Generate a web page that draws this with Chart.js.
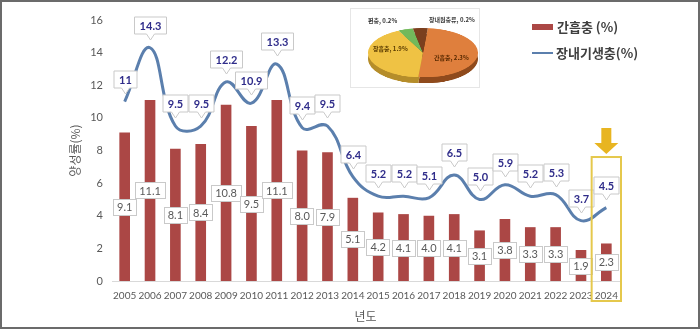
<!DOCTYPE html>
<html>
<head>
<meta charset="utf-8">
<script src="https://cdn.jsdelivr.net/npm/chart.js@4/dist/chart.umd.min.js"></script>
<style>
  html, body { margin:0; padding:0; background:#fff; }
  #wrap { position:relative; width:700px; height:330px; overflow:hidden; }
  #frame { position:absolute; left:0; top:0; width:700px; height:329px; box-sizing:border-box; border:2px solid #6b6b6b; pointer-events:none; }
  #main { position:absolute; left:0; top:0; }
  #pieBox { position:absolute; left:350px; top:8px; width:130px; height:80px; background:#fff; border:1px solid #e6e6e6; box-sizing:border-box; }
  .pc { position:absolute; left:17px; transform-origin:0 0; transform:scaleY(0.45); }
  .plab { position:absolute; font-family:'Noto Sans CJK KR',sans-serif; font-weight:700; font-size:6px; color:#3a3a3a; white-space:nowrap; line-height:1; }
  .leg { position:absolute; font-family:'Noto Sans CJK KR',sans-serif; font-weight:700; font-size:13px; color:#404040; white-space:nowrap; line-height:1; }
</style>
</head>
<body>
<div id="wrap">
  <canvas id="main" width="700" height="330"></canvas>
  <div id="pieBox">
    <canvas id="pieSide" class="pc" width="110" height="110" style="top:25px"></canvas>
    <canvas id="pieTop" class="pc" width="110" height="110" style="top:19px"></canvas>
    <span class="plab" style="left:17px;top:9px;">편충, 0.2%</span>
    <span class="plab" style="left:78px;top:8px;">장내원충류, 0.2%</span>
    <span class="plab" style="left:22px;top:37px;color:#5a3b00;">장흡충, 1.9%</span>
    <span class="plab" style="left:83px;top:46px;color:#5a2a00;">간흡충, 2.3%</span>
  </div>
  <div style="position:absolute;left:532px;top:24px;width:21px;height:6px;background:#ab4745;"></div>
  <div class="leg" style="left:557px;top:20px;">간흡충 (%)</div>
  <div style="position:absolute;left:532px;top:52px;width:21px;height:2px;background:#5b7fad;"></div>
  <div class="leg" style="left:556px;top:46px;">장내기생충(%)</div>
  <div id="frame"></div>
</div>
<script>
const years = ['2005','2006','2007','2008','2009','2010','2011','2012','2013','2014','2015','2016','2017','2018','2019','2020','2021','2022','2023','2024'];
const clonorchis = [9.1,11.1,8.1,8.4,10.8,9.5,11.1,8.0,7.9,5.1,4.2,4.1,4.0,4.1,3.1,3.8,3.3,3.3,1.9,2.3];
const intestinal = [11,14.3,9.5,9.5,12.2,10.9,13.3,9.4,9.5,6.4,5.2,5.2,5.1,6.5,5.0,5.9,5.2,5.3,3.7,4.5];
const intestinalLabels = ['11','14.3','9.5','9.5','12.2','10.9','13.3','9.4','9.5','6.4','5.2','5.2','5.1','6.5','5.0','5.9','5.2','5.3','3.7','4.5'];
const yTicks = [0,2,4,6,8,10,12,14,16];
const pieLabels = ['간흡충','장흡충','편충','장내원충류'];
const pieValues = [2.3,1.9,0.2,0.2];

const NUM_FONT = "Lato, 'Liberation Sans', sans-serif";
const KR_FONT = "'Noto Sans CJK KR', sans-serif";

const labelPlugin = {
  id: 'valueLabels',
  afterDatasetsDraw(chart) {
    const ctx = chart.ctx;
    const barMeta = chart.getDatasetMeta(0);
    const lineMeta = chart.getDatasetMeta(1);
    ctx.save();
    ctx.font = '11px ' + NUM_FONT;
    ctx.textAlign = 'center';
    ctx.textBaseline = 'middle';
    barMeta.data.forEach((bar, i) => {
      const txt = clonorchis[i].toFixed(1);
      const cx = bar.x, cy = (bar.y + bar.base) / 2;
      const w = ctx.measureText(txt).width + 8, h = 16;
      ctx.fillStyle = '#fff';
      ctx.strokeStyle = '#c9c9c9';
      ctx.lineWidth = 1;
      ctx.fillRect(Math.round(cx - w/2)+0.5, Math.round(cy - h/2)+0.5, Math.round(w), h);
      ctx.strokeRect(Math.round(cx - w/2)+0.5, Math.round(cy - h/2)+0.5, Math.round(w), h);
      ctx.fillStyle = '#595959';
      ctx.fillText(txt, cx, cy + 0.5);
    });
    ctx.font = 'bold 11px ' + NUM_FONT;
    lineMeta.data.forEach((pt, i) => {
      const txt = intestinalLabels[i];
      const cx = Math.round(pt.x) + 0.5;
      const cy = Math.round(pt.y - 23) + 0.5;
      const w = Math.round(ctx.measureText(txt).width + 10), h = 17;
      const l = cx - w/2, r = cx + w/2, t = cy - h/2, b = cy + h/2;
      ctx.beginPath();
      ctx.moveTo(l, t); ctx.lineTo(r, t); ctx.lineTo(r, b);
      ctx.lineTo(cx + 4, b); ctx.lineTo(cx, b + 6); ctx.lineTo(cx - 4, b);
      ctx.lineTo(l, b); ctx.closePath();
      ctx.fillStyle = '#fff';
      ctx.fill();
      ctx.strokeStyle = '#c9c9c9';
      ctx.lineWidth = 1;
      ctx.stroke();
      ctx.fillStyle = '#2f2c8a';
      ctx.fillText(txt, cx, cy + 0.5);
    });
    ctx.restore();
  },
  afterDraw(chart) {
    const ctx = chart.ctx;
    const xs = chart.scales.x, ys = chart.scales.y;
    const last = years.length - 1;
    const cx = xs.getPixelForValue(last);
    const half = (xs.getPixelForValue(1) - xs.getPixelForValue(0)) / 2 + 2;
    const top = ys.getPixelForValue(7.6);
    const bottom = chart.chartArea.bottom + 20;
    ctx.save();
    ctx.strokeStyle = '#e5c84c';
    ctx.lineWidth = 2;
    ctx.strokeRect(cx - half, top, half * 2, bottom - top);
    const aTop = top - 29, aMid = top - 14, aTip = top - 3;
    ctx.fillStyle = '#e8b521';
    ctx.beginPath();
    ctx.moveTo(cx - 5, aTop); ctx.lineTo(cx + 5, aTop); ctx.lineTo(cx + 5, aMid);
    ctx.lineTo(cx + 12, aMid); ctx.lineTo(cx, aTip); ctx.lineTo(cx - 12, aMid);
    ctx.lineTo(cx - 5, aMid); ctx.closePath();
    ctx.fill();
    ctx.restore();
  }
};

new Chart(document.getElementById('main'), {
  data: {
    labels: years,
    datasets: [
      {
        type: 'bar', label: '간흡충 (%)', data: clonorchis,
        backgroundColor: '#ab4745', borderWidth: 0,
        barPercentage: 0.42, categoryPercentage: 1.0, order: 2
      },
      {
        type: 'line', label: '장내기생충(%)', data: intestinal,
        borderColor: '#5b7fad', borderWidth: 3, pointRadius: 0,
        tension: 0.42, fill: false, order: 1
      }
    ]
  },
  options: {
    responsive: false,
    animation: false,
    layout: { padding: { left: 64, right: 81, top: 20, bottom: 0 } },
    plugins: { legend: { display: false }, tooltip: { enabled: false } },
    scales: {
      x: {
        grid: { display: false, drawTicks: false },
        border: { display: true, color: '#d9d9d9', width: 1 },
        ticks: { color: '#595959', font: { family: NUM_FONT, size: 10 }, padding: 9, maxRotation: 0, autoSkip: false },
        title: { display: true, text: '년도', color: '#595959', font: { family: KR_FONT, size: 12 }, padding: { top: 0, bottom: 6 } },
        afterFit(s) { s.height = 49; }
      },
      y: {
        min: 0, max: 16,
        afterBuildTicks(s) { s.ticks = yTicks.map(v => ({ value: v })); },
        grid: { display: false, drawTicks: false },
        border: { display: false },
        ticks: { color: '#595959', font: { family: NUM_FONT, size: 11 }, padding: 9 },
        title: { display: true, text: '양성률(%)', color: '#595959', font: { family: KR_FONT, size: 12 }, padding: { top: 4, bottom: 0 } },
        afterFit(s) { s.width = 48; }
      }
    }
  },
  plugins: [labelPlugin]
});

function pieChart(id, colors) {
  return new Chart(document.getElementById(id), {
    type: 'pie',
    data: { labels: pieLabels, datasets: [{ data: pieValues, backgroundColor: colors, borderWidth: 0 }] },
    options: {
      responsive: false, animation: false, rotation: 5,
      layout: { padding: 0 },
      plugins: { legend: { display: false }, tooltip: { enabled: false } }
    }
  });
}
pieChart('pieSide', ['#8f4a1c', '#b58d2a', '#4f8a3c', '#5a2c12']);
pieChart('pieTop', ['#df7f3d', '#efc244', '#72b95b', '#7b3f1e']);
</script>
</body>
</html>
